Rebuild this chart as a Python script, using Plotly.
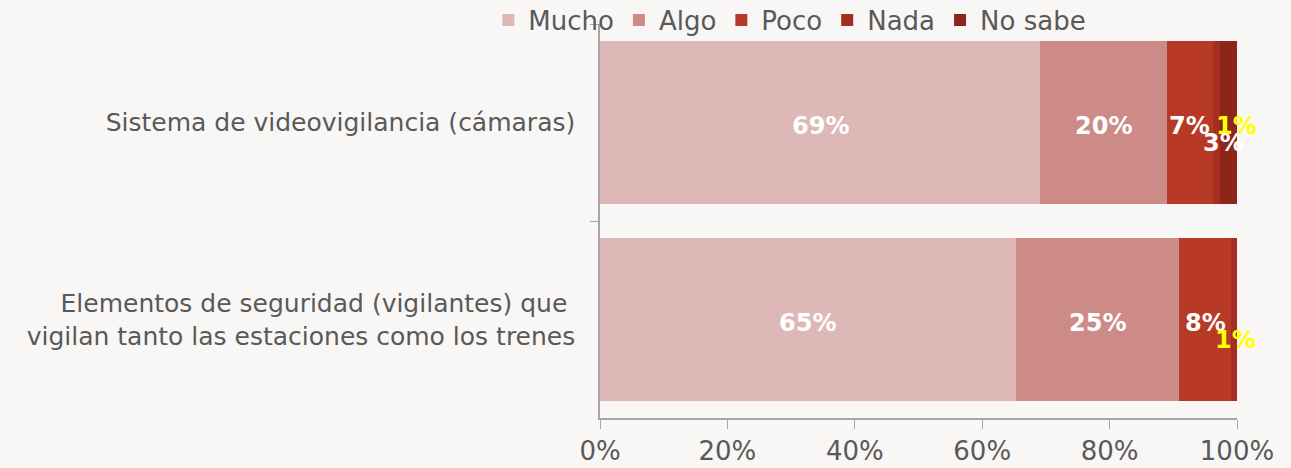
import plotly.graph_objects as go

categories = ["Sistema de videovigilancia (cámaras)",
              "Elementos de seguridad (vigilantes) que <br>vigilan tanto las estaciones como los trenes"]
series_names = ["Mucho", "Algo", "Poco", "Nada", "No sabe"]
mucho = [69.1, 65.3]
algo = [19.9, 25.6]
poco = [7.2, 8.2]
nada = [1.1, 0.9]
no_sabe = [2.7, 0.0]
labels = {
    "Mucho": ["69%", "65%"],
    "Algo": ["20%", "25%"],
    "Poco": ["7%", "8%"],
    "Nada": ["1%", "1%"],
    "No sabe": ["3%", ""],
}
colors = ["#DDB8B7", "#CC8B86", "#B83A26", "#A52E20", "#8B2619"]

values = [mucho, algo, poco, nada, no_sabe]
FONT = "DejaVu Sans"

fig = go.Figure()
for name, vals, col in zip(series_names, values, colors):
    fig.add_trace(go.Bar(
        y=categories, x=vals, name=name, orientation="h",
        marker=dict(color=col, line=dict(width=0)),
        hoverinfo="x+name",
    ))

# labels
cum = [0.0, 0.0]
for si, (name, vals) in enumerate(zip(series_names, values)):
    for ci, cat in enumerate(categories):
        v = vals[ci]
        center = cum[ci] + v / 2
        cum[ci] += v
        txt = labels[name][ci]
        if not txt:
            continue
        color = "white"
        xshift, yshift = 0, -3
        if name == "Nada":
            color = "#FFFF00"
            if ci == 0:
                xshift = 20
            else:
                xshift = 1
                yshift = -20
        if name == "No sabe":
            xshift = -5
            yshift = -20
        fig.add_annotation(x=center, y=cat, text="<b>%s</b>" % txt, showarrow=False,
                           xshift=xshift, yshift=yshift,
                           font=dict(family=FONT, size=24, color=color))

fig.update_layout(
    barmode="stack",
    bargap=0.17,
    width=1291, height=468,
    margin=dict(l=600, r=54, t=24, b=50, autoexpand=False),
    paper_bgcolor="#F9F7F5",
    plot_bgcolor="#F9F7F5",
    font=dict(family=FONT, size=26, color="#595959"),
    legend=dict(orientation="h", x=0.298, xanchor="center", y=1.01, yanchor="middle",
                bgcolor="rgba(0,0,0,0)", font=dict(size=26, color="#595959"),
                itemwidth=30, traceorder="normal", tracegroupgap=0),
    showlegend=True,
)
fig.update_xaxes(range=[0, 100], tickvals=[0, 20, 40, 60, 80, 100],
                 ticktext=["0%", "20%", "40%", "60%", "80%", "100%"],
                 showline=True, linecolor="#A6A6A6", linewidth=1.5,
                 ticks="outside", ticklen=9, tickcolor="#A6A6A6",
                 showgrid=False, zeroline=False, fixedrange=True,
                 tickfont=dict(size=26, color="#595959"))
fig.update_yaxes(autorange="reversed", showline=True, linecolor="#A6A6A6", linewidth=1.5,
                 ticks="outside", ticklen=8, tickcolor="#A6A6A6", tickson="boundaries",
                 showgrid=False, zeroline=False, fixedrange=True,
                 ticklabelstandoff=18,
                 tickfont=dict(size=25, color="#595959"))

fig.write_html("out.html", config={"displayModeBar": False},
               post_script="document.body.style.margin='0';document.body.style.background='#F9F7F5';")
